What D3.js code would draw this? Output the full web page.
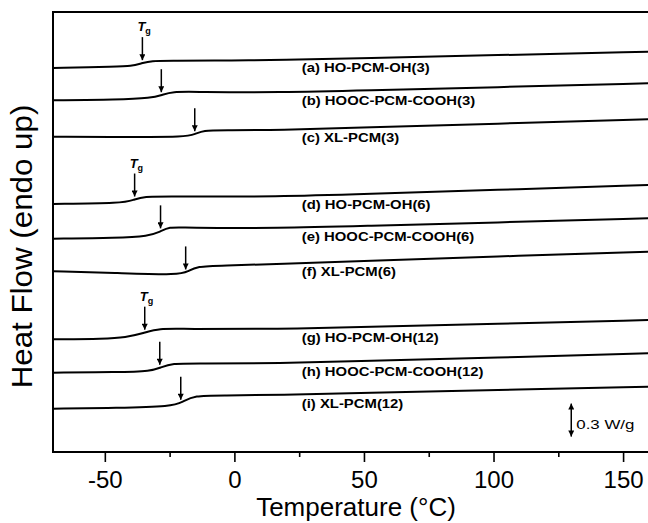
<!DOCTYPE html>
<html>
<head>
<meta charset="utf-8">
<script src="https://cdn.jsdelivr.net/npm/d3@7"></script>
<style>
body { margin: 0; background: #fff; }
svg { display: block; font-family: "Liberation Sans", Arial, Helvetica, sans-serif; }
</style>
</head>
<body>
<svg id="chart" width="648" height="523"></svg>
<script>
/* DSC traces: [temperature (°C), heat flow incl. stacking offset (W/g)] */
var traceA = [[-70,3.491],[-45,3.505],[-40,3.509],[-36,3.532],[-32,3.557],[-25,3.556],[0,3.559],[17.5,3.564],[50,3.581],[100,3.607],[160,3.639]];
var traceB = [[-70,3.197],[-45,3.202],[-32,3.218],[-28,3.245],[-24,3.277],[-15,3.273],[17.5,3.268],[50,3.286],[100,3.316],[160,3.352]];
var traceC = [[-70,2.866],[-40,2.864],[-19,2.862],[-15,2.891],[-12,2.923],[-5,2.925],[17.5,2.927],[50,2.949],[100,2.984],[160,3.025]];
var traceD = [[-70,2.255],[-43,2.261],[-39,2.291],[-35,2.325],[-25,2.323],[17.5,2.321],[50,2.345],[100,2.382],[160,2.427]];
var traceE = [[-70,1.939],[-45,1.945],[-33,1.964],[-29,2.000],[-25,2.047],[-20,2.038],[17.5,2.034],[50,2.055],[100,2.086],[160,2.125]];
var traceF = [[-70,1.643],[-45,1.627],[-21,1.609],[-18,1.641],[-14.5,1.688],[-5,1.695],[17.5,1.709],[50,1.736],[100,1.777],[160,1.821]];
var traceG = [[-70,1.025],[-50,1.029],[-42,1.041],[-35,1.082],[-29,1.125],[-20,1.118],[17.5,1.118],[50,1.136],[100,1.164],[160,1.200]];
var traceH = [[-70,0.721],[-45,0.725],[-32,0.736],[-28.5,0.768],[-24,0.806],[-15,0.804],[17.5,0.806],[50,0.827],[100,0.858],[160,0.897]];
var traceI = [[-70,0.394],[-45,0.400],[-24,0.414],[-20,0.455],[-15.5,0.514],[-5,0.514],[17.5,0.518],[50,0.536],[100,0.564],[160,0.594]];

var sampleNames = ['(a) HO-PCM-OH(3)', '(b) HOOC-PCM-COOH(3)', '(c) XL-PCM(3)',
                   '(d) HO-PCM-OH(6)', '(e) HOOC-PCM-COOH(6)', '(f) XL-PCM(6)',
                   '(g) HO-PCM-OH(12)', '(h) HOOC-PCM-COOH(12)', '(i) XL-PCM(12)'];
var tgTemps = [-35.5, -28.2, -15.3, -38.5, -28.5, -18.8, -34.6, -28.8, -20.7];
var tgLabelled = [0, 3, 6];

var majorTicks = [-50, 0, 50, 100, 150];
var minorTicks = [-25, 25, 75, 125];
var labelTemp = 26;
var scaleBarTemp = 130;
var scaleBarBase = 0.14;
var scaleBarSize = 0.3;

var traces = [traceA, traceB, traceC, traceD, traceE, traceF, traceG, traceH, traceI];

var svg = d3.select('#chart');

var x = d3.scaleLinear().domain([-70, 160]).range([53, 649]);
var y = d3.scaleLinear().domain([0, 4]).range([452, 12]);

// arrow heads
var defs = svg.append('defs');
defs.append('marker')
    .attr('id', 'head')
    .attr('markerUnits', 'userSpaceOnUse')
    .attr('viewBox', '0 0 10 10')
    .attr('refX', 10).attr('refY', 5)
    .attr('markerWidth', 8).attr('markerHeight', 6)
    .attr('orient', 'auto-start-reverse')
  .append('path')
    .attr('d', 'M0,0L10,5L0,10z')
    .attr('fill', '#000');

// frame
svg.append('path')
    .attr('d', 'M' + x(160) + ',' + y(4) + 'H' + x(-70) + 'V' + y(0) + 'H' + x(160))
    .attr('fill', 'none')
    .attr('stroke', '#000')
    .attr('stroke-width', 2);

// x axis
var xAxis = svg.append('g')
    .attr('transform', 'translate(0,' + y(0) + ')')
    .call(d3.axisBottom(x).tickValues(majorTicks).tickSize(10).tickFormat(function(d) { return String(d); }));
xAxis.select('.domain').remove();
xAxis.selectAll('line').attr('stroke-width', 1.6);
xAxis.selectAll('text')
    .attr('y', 19)
    .attr('fill', '#000')
    .style('font-size', '24px')
    .style('font-family', '"Liberation Sans", Arial, sans-serif');

var xMinor = svg.append('g')
    .attr('transform', 'translate(0,' + y(0) + ')')
    .call(d3.axisBottom(x).tickValues(minorTicks).tickSize(5).tickFormat(''));
xMinor.select('.domain').remove();
xMinor.selectAll('line').attr('stroke-width', 1.6);

// axis titles
svg.append('text')
    .attr('x', 356).attr('y', 516)
    .attr('text-anchor', 'middle')
    .style('font-size', '26px')
    .text('Temperature (°C)');

svg.append('text')
    .attr('transform', 'translate(32,246.5) rotate(-90) scale(1.08,1)')
    .attr('text-anchor', 'middle')
    .style('font-size', '29px')
    .text('Heat Flow (endo up)');

// traces
var line = d3.line()
    .x(function(d) { return x(d[0]); })
    .y(function(d) { return y(d[1]); })
    .curve(d3.curveBasis);

svg.append('g')
  .selectAll('path')
  .data(traces)
  .enter().append('path')
    .attr('d', line)
    .attr('fill', 'none')
    .attr('stroke', '#000')
    .attr('stroke-width', 2);

function valueAt(trace, t) {
  var i = d3.bisector(function(d) { return d[0]; }).left(trace, t);
  if (i <= 0) return trace[0][1];
  if (i >= trace.length) return trace[trace.length - 1][1];
  var a = trace[i - 1], b = trace[i];
  return a[1] + (b[1] - a[1]) * (t - a[0]) / (b[0] - a[0]);
}

// sample labels
svg.append('g')
  .selectAll('text')
  .data(sampleNames)
  .enter().append('text')
    .attr('transform', function(d, i) {
      return 'translate(' + x(labelTemp) + ',' + (y(valueAt(traces[i], labelTemp)) + 13) + ') scale(1.24,1)';
    })
    .style('font-size', '12px')
    .style('font-weight', 'bold')
    .text(function(d) { return d; });

// Tg arrows
var arrows = svg.append('g');
tgTemps.forEach(function(t, i) {
  var tip = y(valueAt(traces[i], t)) - 3;
  arrows.append('line')
    .attr('x1', x(t)).attr('x2', x(t))
    .attr('y1', tip - 23).attr('y2', tip)
    .attr('stroke', '#000')
    .attr('stroke-width', 1.5)
    .attr('marker-end', 'url(#head)');

  if (tgLabelled.indexOf(i) >= 0) {
    var lbl = arrows.append('text')
      .attr('x', x(t) - 5)
      .attr('y', tip - 29)
      .style('font-weight', 'bold');
    lbl.append('tspan')
      .style('font-style', 'italic')
      .style('font-size', '13px')
      .text('T');
    lbl.append('tspan')
      .attr('dy', 3)
      .style('font-size', '9px')
      .text('g');
  }
});

// scale bar
svg.append('line')
    .attr('x1', x(scaleBarTemp)).attr('x2', x(scaleBarTemp))
    .attr('y1', y(scaleBarBase)).attr('y2', y(scaleBarBase + scaleBarSize))
    .attr('stroke', '#000')
    .attr('stroke-width', 1.5)
    .attr('marker-start', 'url(#head)')
    .attr('marker-end', 'url(#head)');

svg.append('text')
    .attr('transform', 'translate(' + (x(scaleBarTemp) + 5) + ',' + (y(scaleBarBase + scaleBarSize / 2) + 8.5) + ') scale(1.3,1)')
    .style('font-size', '13px')
    .text('0.3 W/g');
</script>
</body>
</html>
